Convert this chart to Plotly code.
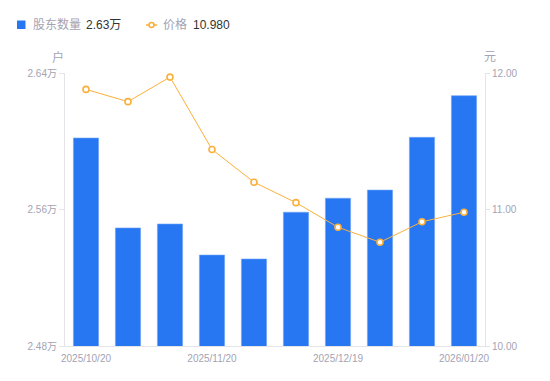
import plotly.graph_objects as go

dates = ["2025/10/20", "2025/10/31", "2025/11/10", "2025/11/20", "2025/11/28",
         "2025/12/10", "2025/12/19", "2025/12/31", "2026/01/09", "2026/01/20"]
holders = [2.6019, 2.5492, 2.5515, 2.5333, 2.5310, 2.5584, 2.5666, 2.5714, 2.6023, 2.6267]
prices = [11.88, 11.79, 11.97, 11.44, 11.20, 11.05, 10.87, 10.76, 10.91, 10.98]
x_ticks = ["2025/10/20", "2025/11/20", "2025/12/19", "2026/01/20"]
left_ticks = [2.48, 2.56, 2.64]
left_labels = ["2.48万", "2.56万", "2.64万"]
right_ticks = [10.0, 11.0, 12.0]
right_labels = ["10.00", "11.00", "12.00"]

BLUE = "#2777f3"
ORANGE = "#fbb03b"
GRAY = "#a3a3b3"
AXIS = "#e4e4e8"
FONT = "Liberation Sans, Noto Sans CJK SC, sans-serif"
TICKFONT = dict(size=10, color=GRAY)

fig = go.Figure()
fig.add_trace(go.Bar(x=dates, y=holders, marker=dict(color=BLUE, line=dict(color="#6fa4f7", width=0.6)),
                     width=0.6, yaxis="y", showlegend=False, hoverinfo="skip"))
fig.add_trace(go.Scatter(x=dates, y=prices, mode="lines+markers", yaxis="y2",
                         line=dict(color=ORANGE, width=1),
                         marker=dict(symbol="circle", size=6, color="white",
                                     line=dict(color=ORANGE, width=1.6)),
                         showlegend=False, hoverinfo="skip"))

fig.update_layout(
    width=550, height=381,
    margin=dict(l=65, r=65, t=73, b=35, autoexpand=False),
    paper_bgcolor="white", plot_bgcolor="white",
    font=dict(family=FONT, size=10, color=GRAY),
    bargap=0.4,
    xaxis=dict(type="category", range=[-0.5, len(dates) - 0.5], autorange=False,
               tickmode="array", tickvals=x_ticks, ticktext=x_ticks,
               showline=True, linecolor=AXIS, linewidth=1, ticks="", showgrid=False,
               ticklabelstandoff=3,
               tickfont=TICKFONT, zeroline=False, automargin=False),
    yaxis=dict(range=[2.48, 2.64], tickmode="array", tickvals=left_ticks, ticktext=left_labels,
               showline=True, linecolor=AXIS, linewidth=1, ticks="outside", ticklen=5,
               tickcolor=AXIS, showgrid=False, zeroline=False, tickfont=TICKFONT,
               automargin=False),
    yaxis2=dict(range=[10.0, 12.0], overlaying="y", side="right", tickmode="array",
                tickvals=right_ticks, ticktext=right_labels,
                showline=True, linecolor=AXIS, linewidth=1, ticks="outside", ticklen=4,
                tickcolor=AXIS, showgrid=False, zeroline=False, tickfont=TICKFONT,
                automargin=False),
)

# unit labels
fig.add_annotation(xref="paper", yref="paper", x=(58 - 65) / 420, y=1.0, yshift=16, text="户",
                   showarrow=False, font=dict(size=12, color=GRAY), xanchor="center", yanchor="middle")
fig.add_annotation(xref="paper", yref="paper", x=(490 - 65) / 420, y=1.0, yshift=16, text="元",
                   showarrow=False, font=dict(size=12, color=GRAY), xanchor="center", yanchor="middle")

# custom legend
LY = (346 - 25) / 273
fig.add_shape(type="rect", xref="paper", yref="paper", x0=(17 - 65) / 420, x1=(25.5 - 65) / 420,
              y0=(346 - 29) / 273, y1=(346 - 20.5) / 273, fillcolor=BLUE, line=dict(width=0))
fig.add_annotation(xref="paper", yref="paper", x=(31 - 65) / 420, y=LY,
                   text="股东数量", showarrow=False, xanchor="left", yanchor="middle",
                   font=dict(size=12, color=GRAY))
fig.add_annotation(xref="paper", yref="paper", x=(84 - 65) / 420, y=LY,
                   text="2.63万", showarrow=False, xanchor="left", yanchor="middle",
                   font=dict(size=12, color="#333333"))
fig.add_shape(type="line", xref="paper", yref="paper", x0=(146 - 65) / 420, x1=(157 - 65) / 420,
              y0=LY, y1=LY, line=dict(color=ORANGE, width=1.5))
fig.add_shape(type="circle", xref="paper", yref="paper", x0=(149 - 65) / 420, x1=(154 - 65) / 420,
              y0=(346 - 27.5) / 273, y1=(346 - 22.5) / 273, fillcolor="white",
              line=dict(color=ORANGE, width=1.6))
fig.add_annotation(xref="paper", yref="paper", x=(161 - 65) / 420, y=LY,
                   text="价格", showarrow=False, xanchor="left", yanchor="middle",
                   font=dict(size=12, color=GRAY))
fig.add_annotation(xref="paper", yref="paper", x=(191 - 65) / 420, y=LY,
                   text="10.980", showarrow=False, xanchor="left", yanchor="middle",
                   font=dict(size=12, color="#333333"))

fig.write_html("out.html", config={"displayModeBar": False},
               post_script="document.body.style.margin='0';")
